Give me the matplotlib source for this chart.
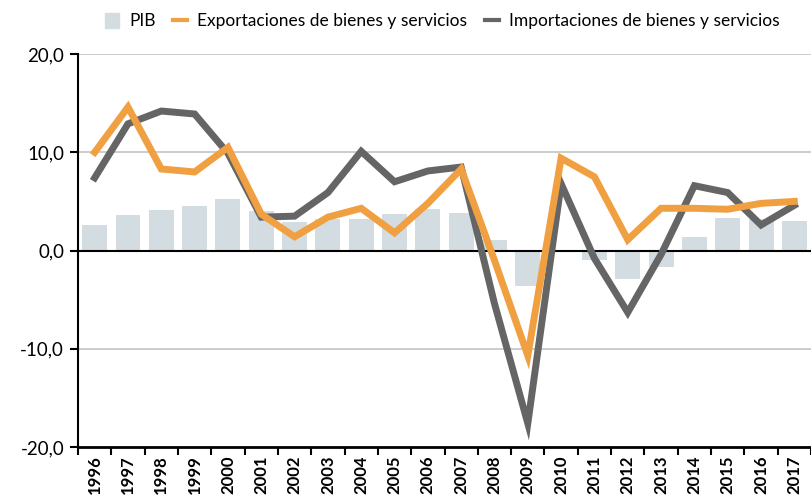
import numpy as np
import matplotlib.pyplot as plt
from matplotlib.patches import Patch
from matplotlib.lines import Line2D

plt.rcParams['font.family'] = ['Lato', 'DejaVu Sans']

years = [str(y) for y in range(1996, 2018)]
pib = [2.6, 3.6, 4.1, 4.5, 5.2, 4.0, 2.9, 3.2, 3.2, 3.7, 4.2, 3.8,
       1.1, -3.6, 0.0, -1.0, -2.9, -1.7, 1.4, 3.3, 3.2, 3.0]
exportaciones = [10.0, 14.6, 8.3, 8.0, 10.5, 3.7, 1.4, 3.4, 4.3, 1.8, 4.8, 8.3,
                 -1.0, -10.7, 9.4, 7.5, 1.1, 4.3, 4.3, 4.2, 4.8, 5.0]
importaciones = [7.4, 12.9, 14.2, 13.9, 9.9, 3.4, 3.5, 5.9, 10.1, 7.0, 8.1, 8.5,
                 -5.4, -17.6, 6.8, -0.8, -6.3, -0.4, 6.6, 5.9, 2.6, 4.6]

c_bar = '#d3dce1'
c_exp = '#f0a040'
c_imp = '#646564'

fig = plt.figure(figsize=(8.11, 4.96), dpi=100)
ax = fig.add_axes([0.0962, 0.0988, 0.9038, 0.7922])

x = np.arange(len(years))
ax.bar(x, pib, width=0.75, color=c_bar, zorder=1)
ax.plot(x, importaciones, color=c_imp, lw=5, solid_joinstyle='miter', zorder=3)
ax.plot(x, exportaciones, color=c_exp, lw=5, solid_joinstyle='miter', zorder=4)

ax.set_xlim(-0.5, len(years) - 0.5)
ax.set_ylim(-20, 20)
ax.set_yticks([-20, -10, 0, 10, 20])
ax.set_yticklabels(['-20,0', '-10,0', '0,0', '10,0', '20,0'], fontsize=13.5)
for v in [-10, 10, 20]:
    ax.axhline(v, color='#c4c4c4', lw=1.2, zorder=0)
ax.axhline(0, color='black', lw=1.5, zorder=2)

ax.set_xticks(x)
ax.set_xticklabels(years, rotation=90, fontsize=12, fontweight='bold')
ax.set_xticks(np.arange(-0.5, len(years), 1), minor=True)
ax.tick_params(axis='x', which='major', length=0, pad=6)
ax.tick_params(axis='x', which='minor', length=6, width=1.5, direction='out')
ax.tick_params(axis='y', length=6, width=1.5, direction='out', pad=4)

for s in ['top', 'right']:
    ax.spines[s].set_visible(False)
ax.spines['left'].set_linewidth(1.5)
ax.spines['bottom'].set_linewidth(2)

handles = [Patch(color=c_bar, label='PIB'),
           Line2D([], [], color=c_exp, lw=3, label='Exportaciones de bienes y servicios'),
           Line2D([], [], color=c_imp, lw=3, label='Importaciones de bienes y servicios')]
fig.legend(handles=handles, loc='upper left', bbox_to_anchor=(0.11, 1.005), ncol=3,
           frameon=False, fontsize=12.5, handlelength=0.8, handleheight=0.9,
           handletextpad=0.6, columnspacing=1.0)

plt.savefig('out.png')
